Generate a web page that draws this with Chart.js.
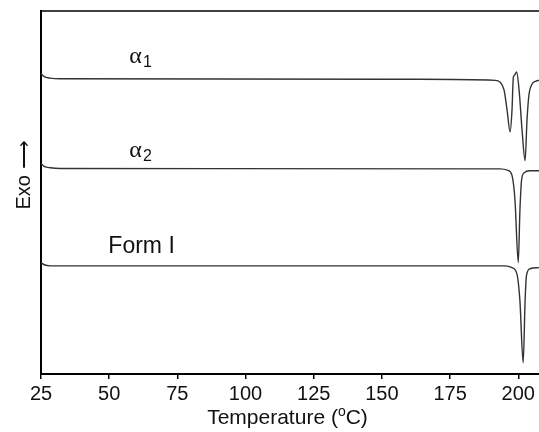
<!DOCTYPE html>
<html>
<head>
<meta charset="utf-8">
<script src="https://cdn.jsdelivr.net/npm/chart.js@4"></script>
<style>
  html, body { margin: 0; padding: 0; background: #fff; }
  #wrap { width: 539px; height: 432px; }
</style>
</head>
<body>
<div id="wrap"><canvas id="chart"></canvas></div>
<script>
// temperature (°C) and heat flow (arbitrary units, offset per trace)
const tempA1 = [25, 26.2, 28.4, 32.1, 164, 191.5, 193.3, 194.8, 195.9, 197.0, 197.7, 198.2, 198.6, 199.4, 200.3, 201.4, 202.5, 203.2, 203.9, 205.0, 206.5, 207.6];
const flowA1 = [82.8, 81.9, 81.5, 81.35, 81.2, 80.9, 80.4, 78.2, 72.7, 66.7, 72.7, 81.8, 82.3, 83.2, 78.2, 67.1, 58.8, 69.9, 76.8, 79.8, 80.7, 80.9];

const tempA2 = [25, 26.2, 28.4, 32.1, 193.3, 196.2, 197.7, 198.8, 200.0, 200.6, 201.2, 202.1, 204.3, 207.6];
const flowA2 = [58.0, 57.2, 56.8, 56.6, 56.5, 56.1, 54.7, 47.8, 30.7, 45.0, 53.3, 55.4, 56.0, 56.0];

const tempF1 = [25, 26.2, 28.4, 195.1, 197.7, 199.5, 200.6, 201.8, 202.5, 203.0, 204.3, 207.6];
const flowF1 = [30.7, 30.1, 29.8, 29.8, 29.3, 27.6, 20.2, 3.1, 20.2, 27.1, 29.0, 29.3];

const xTicks = [25, 50, 75, 100, 125, 150, 175, 200];

// trace labels: text, subscript, temperature, heat flow
const traceLabels = [
  { text: 'α', sub: '1', x: 57.4, y: 85.6 },
  { text: 'α', sub: '2', x: 57.4, y: 59.9 },
  { text: 'Form I', sub: '', x: 49.7, y: 33.4 }
];

const toPoints = (xs, ys) => xs.map((x, i) => ({ x: x, y: ys[i] }));

const lineStyle = {
  borderColor: '#333',
  borderWidth: 1.4,
  pointRadius: 0,
  fill: false,
  cubicInterpolationMode: 'monotone'
};

const extras = {
  id: 'extras',
  afterDraw(chart) {
    const ctx = chart.ctx;
    const area = chart.chartArea;
    const xs = chart.scales.x;
    const ys = chart.scales.y;
    ctx.save();
    // top frame line
    ctx.strokeStyle = '#000';
    ctx.lineWidth = 1.5;
    ctx.beginPath();
    ctx.moveTo(area.left, area.top);
    ctx.lineTo(area.right, area.top);
    ctx.stroke();

    ctx.fillStyle = '#111';
    ctx.textBaseline = 'alphabetic';
    traceLabels.forEach(l => {
      const px = xs.getPixelForValue(l.x);
      const py = ys.getPixelForValue(l.y);
      if (l.sub) {
        ctx.font = '24px "Liberation Serif"';
        ctx.fillText(l.text, px, py);
        const w = ctx.measureText(l.text).width;
        ctx.font = '16px "Liberation Sans"';
        ctx.fillText(l.sub, px + w + 1, py + 4);
      } else {
        ctx.font = '23px "Liberation Sans"';
        ctx.fillText(l.text, px, py);
      }
    });

    // x axis title with superscript o
    const a = 'Temperature (', b = 'o', c = 'C)';
    ctx.font = '21px "Liberation Sans"';
    const wa = ctx.measureText(a).width, wc = ctx.measureText(c).width;
    ctx.font = '14px "Liberation Sans"';
    const wb = ctx.measureText(b).width;
    const sx = 287.5 - (wa + wb + wc) / 2;
    const ty = 424;
    ctx.font = '21px "Liberation Sans"';
    ctx.fillText(a, sx, ty);
    ctx.font = '14px "Liberation Sans"';
    ctx.fillText(b, sx + wa, ty - 8);
    ctx.font = '21px "Liberation Sans"';
    ctx.fillText(c, sx + wa + wb, ty);

    // y axis title
    ctx.translate(30, 175);
    ctx.rotate(-Math.PI / 2);
    ctx.textAlign = 'center';
    ctx.font = '20px "Liberation Sans"';
    ctx.fillText('Exo \u27F6', 0, 0);
    ctx.restore();
  }
};

new Chart(document.getElementById('chart'), {
  type: 'line',
  data: {
    datasets: [
      Object.assign({ label: 'α1', data: toPoints(tempA1, flowA1) }, lineStyle),
      Object.assign({ label: 'α2', data: toPoints(tempA2, flowA2) }, lineStyle),
      Object.assign({ label: 'Form I', data: toPoints(tempF1, flowF1) }, lineStyle)
    ]
  },
  options: {
    responsive: true,
    maintainAspectRatio: false,
    animation: false,
    layout: { padding: { top: 11, right: 0, bottom: 23, left: 0 } },
    plugins: { legend: { display: false }, tooltip: { enabled: false } },
    scales: {
      x: {
        type: 'linear',
        min: 25,
        max: 207.6,
        afterBuildTicks: s => { s.ticks = xTicks.map(v => ({ value: v })); },
        border: { color: '#000', width: 2 },
        grid: { drawOnChartArea: false, drawTicks: true, tickLength: 5, color: '#000', lineWidth: 1.5 },
        ticks: {
          color: '#111',
          padding: 3,
          maxRotation: 0,
          autoSkip: false,
          font: { family: 'Liberation Sans', size: 20 }
        }
      },
      y: {
        min: 0,
        max: 100,
        afterFit: s => { s.width = 41; },
        border: { color: '#000', width: 2 },
        grid: { display: false },
        ticks: { display: false }
      }
    }
  },
  plugins: [extras]
});
</script>
</body>
</html>
